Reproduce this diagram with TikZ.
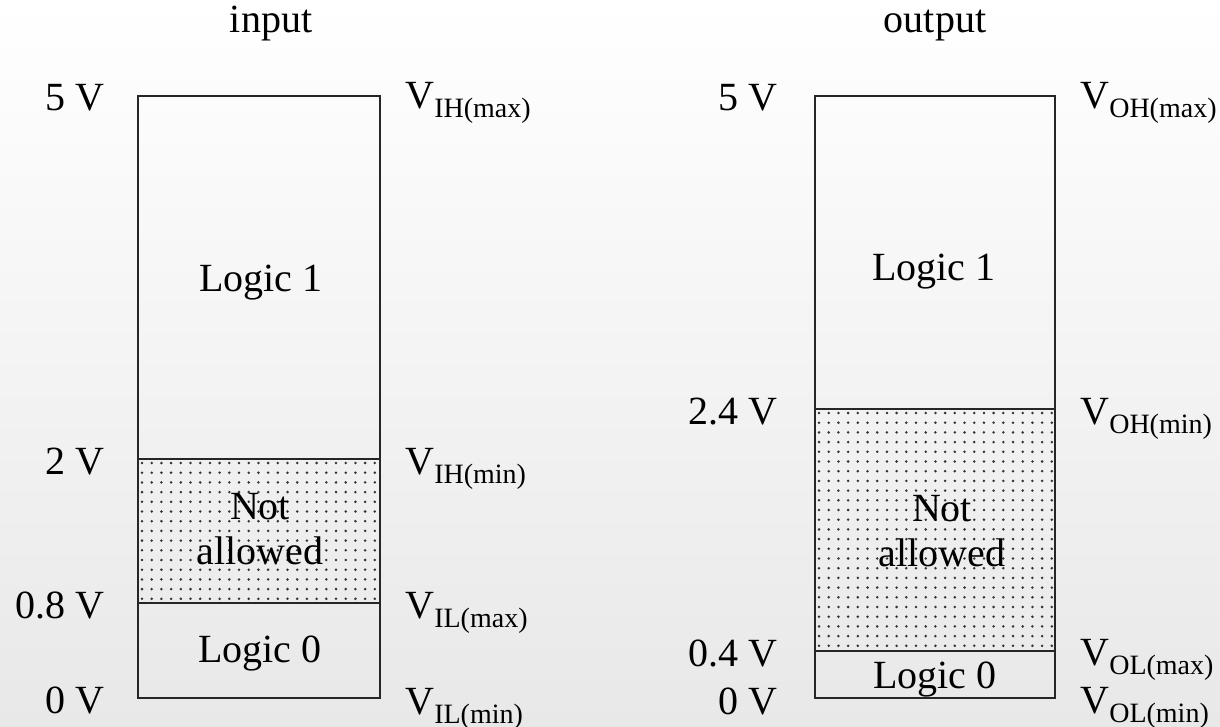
\documentclass[tikz,border=0pt]{standalone}
\usepackage{fontspec}
\setmainfont{Liberation Serif}
\usetikzlibrary{positioning,calc}
\newcommand{\vlab}[1]{V\raisebox{-4.5pt}{\fontsize{14}{14}\selectfont #1}}
\tikzset{
  lvl/.style={font=\fontsize{20}{22.5}\selectfont,inner sep=0pt},
  volt/.style={lvl,anchor=base east},
  vname/.style={lvl,anchor=base west},
  zone/.style={lvl,align=center},
  band/.style={draw=black!85,line width=1pt},
  dot/.style={fill=black!80},
}

\begin{document}
\begin{tikzpicture}[x=0.5pt,y=-0.5pt]
  \shade[top color=white,bottom color=black!9] (0,0) rectangle (1220,727);
  \useasboundingbox (0,0) rectangle (1220,727);

  % titles
  \node[lvl,anchor=base] (tin)  at (271,33) {input};
  \node[lvl,anchor=base] (tout) at (935,33) {output};

  % input: dotted band between 0.8 V and 2 V
  \begin{scope}
    \clip (138,459) rectangle (380,603);
    \foreach \i in {0,...,25}
      \foreach \j in {0,...,15}
        \fill[dot] ({142+9.7*\i},{463+9.7*\j}) circle (0.7pt);
  \end{scope}
  \draw[band] (138,96) rectangle (380,698);
  \draw[band] (138,459) -- (380,459);
  \draw[band] (138,603) -- (380,603);

  % output: dotted band between 0.4 V and 2.4 V
  \begin{scope}
    \clip (815,409) rectangle (1055,651);
    \foreach \i in {0,...,25}
      \foreach \j in {0,...,25}
        \fill[dot] ({819+9.7*\i},{413+9.7*\j}) circle (0.7pt);
  \end{scope}
  \draw[band] (815,96) rectangle (1055,698);
  \draw[band] (815,409) -- (1055,409);
  \draw[band] (815,651) -- (1055,651);

  % input levels
  \node[volt] (i5)  at (105,111) {5 V};
  \node[volt] (i2)  at (105,474) {2 V};
  \node[volt] (i08) at (105,618) {0.8 V};
  \node[volt] (i0)  at (105,713) {0 V};
  \node[vname] (ihmax) at (405,109) {\vlab{IH(max)}};
  \node[vname] (ihmin) at (405,474) {\vlab{IH(min)}};
  \node[vname] (ilmax) at (405,618) {\vlab{IL(max)}};
  \node[vname] (ilmin) at (405,714) {\vlab{IL(min)}};

  % output levels
  \node[volt] (o5)  at (778,111) {5 V};
  \node[volt] (o24) at (778,424) {2.4 V};
  \node[volt] (o04) at (778,666) {0.4 V};
  \node[volt] (o0)  at (778,714) {0 V};
  \node[vname] (ohmax) at (1080,109) {\vlab{OH(max)}};
  \node[vname] (ohmin) at (1080,424) {\vlab{OH(min)}};
  \node[vname] (olmax) at (1080,665) {\vlab{OL(max)}};
  \node[vname] (olmin) at (1080,713) {\vlab{OL(min)}};

  % zones
  \node[zone,anchor=base] (in1) at (261,292) {Logic 1};
  \node[zone] (inx) at (260,529) {Not\\allowed};
  \node[zone,anchor=base] (in0) at (260,662) {Logic 0};
  \node[zone,anchor=base] (out1) at (934,280) {Logic 1};
  \node[zone] (outx) at (942,531) {Not\\allowed};
  \node[zone,anchor=base] (out0) at (935,688) {Logic 0};
\end{tikzpicture}
\end{document}
